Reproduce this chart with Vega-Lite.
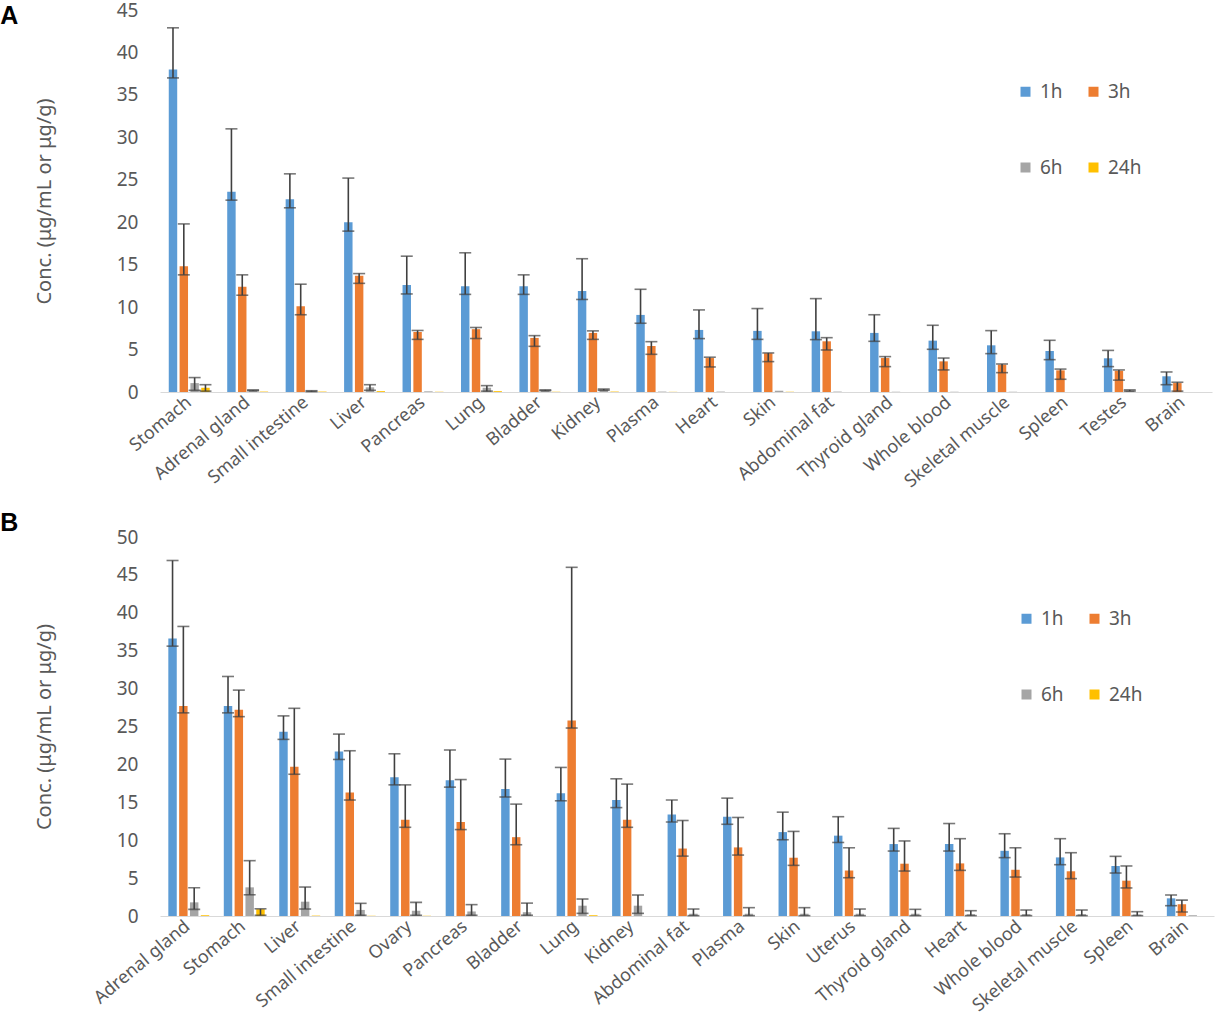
{
  "$schema": "https://vega.github.io/schema/vega-lite/v6.json",
  "background": "white",
  "padding": {"left": 0, "top": 1, "right": 2, "bottom": 0},
  "config": {
    "view": {"stroke": null},
    "font": "Noto Sans",
    "axis": {"labelColor": "#595959", "titleColor": "#595959", "labelFont": "Noto Sans", "titleFont": "Noto Sans"},
    "legend": {"labelColor": "#595959", "labelFont": "Noto Sans"}
  },
  "datasets": {
    "a": [
      {"organ": "Stomach", "time": "1h", "value": 38.0, "lo": 37.0, "hi": 42.9},
      {"organ": "Stomach", "time": "3h", "value": 14.8, "lo": 13.8, "hi": 19.8},
      {"organ": "Stomach", "time": "6h", "value": 1.05, "lo": 0.2, "hi": 1.7},
      {"organ": "Stomach", "time": "24h", "value": 0.5, "lo": 0.1, "hi": 0.86},
      {"organ": "Adrenal gland", "time": "1h", "value": 23.6, "lo": 22.6, "hi": 31.0},
      {"organ": "Adrenal gland", "time": "3h", "value": 12.4, "lo": 11.4, "hi": 13.8},
      {"organ": "Adrenal gland", "time": "6h", "value": 0.2, "lo": 0.15, "hi": 0.25},
      {"organ": "Adrenal gland", "time": "24h", "value": 0.05},
      {"organ": "Small intestine", "time": "1h", "value": 22.7, "lo": 21.7, "hi": 25.7},
      {"organ": "Small intestine", "time": "3h", "value": 10.1, "lo": 9.1, "hi": 12.7},
      {"organ": "Small intestine", "time": "6h", "value": 0.1, "lo": 0.05, "hi": 0.15},
      {"organ": "Small intestine", "time": "24h", "value": 0.05},
      {"organ": "Liver", "time": "1h", "value": 20.0, "lo": 18.95, "hi": 25.2},
      {"organ": "Liver", "time": "3h", "value": 13.7, "lo": 12.8, "hi": 13.95},
      {"organ": "Liver", "time": "6h", "value": 0.55, "lo": 0.2, "hi": 0.86},
      {"organ": "Liver", "time": "24h", "value": 0.1},
      {"organ": "Pancreas", "time": "1h", "value": 12.6, "lo": 11.55, "hi": 16.0},
      {"organ": "Pancreas", "time": "3h", "value": 7.07, "lo": 6.2, "hi": 7.25},
      {"organ": "Pancreas", "time": "6h", "value": 0.08},
      {"organ": "Pancreas", "time": "24h", "value": 0.03},
      {"organ": "Lung", "time": "1h", "value": 12.46, "lo": 11.5, "hi": 16.4},
      {"organ": "Lung", "time": "3h", "value": 7.4, "lo": 6.3, "hi": 7.6},
      {"organ": "Lung", "time": "6h", "value": 0.5, "lo": 0.1, "hi": 0.75},
      {"organ": "Lung", "time": "24h", "value": 0.1},
      {"organ": "Bladder", "time": "1h", "value": 12.46, "lo": 11.5, "hi": 13.8},
      {"organ": "Bladder", "time": "3h", "value": 6.37, "lo": 5.38, "hi": 6.64},
      {"organ": "Bladder", "time": "6h", "value": 0.2, "lo": 0.15, "hi": 0.25},
      {"organ": "Bladder", "time": "24h", "value": 0.03},
      {"organ": "Kidney", "time": "1h", "value": 11.9, "lo": 10.9, "hi": 15.7},
      {"organ": "Kidney", "time": "3h", "value": 6.96, "lo": 6.2, "hi": 7.2},
      {"organ": "Kidney", "time": "6h", "value": 0.3, "lo": 0.2, "hi": 0.35},
      {"organ": "Kidney", "time": "24h", "value": 0.05},
      {"organ": "Plasma", "time": "1h", "value": 9.08, "lo": 8.1, "hi": 12.1},
      {"organ": "Plasma", "time": "3h", "value": 5.42, "lo": 4.44, "hi": 5.93},
      {"organ": "Plasma", "time": "6h", "value": 0.05},
      {"organ": "Plasma", "time": "24h", "value": 0.02},
      {"organ": "Heart", "time": "1h", "value": 7.31, "lo": 6.29, "hi": 9.67},
      {"organ": "Heart", "time": "3h", "value": 4.0, "lo": 2.95, "hi": 4.1},
      {"organ": "Heart", "time": "6h", "value": 0.05},
      {"organ": "Skin", "time": "1h", "value": 7.2, "lo": 6.2, "hi": 9.83},
      {"organ": "Skin", "time": "3h", "value": 4.56, "lo": 3.58, "hi": 4.6},
      {"organ": "Skin", "time": "6h", "value": 0.15},
      {"organ": "Skin", "time": "24h", "value": 0.03},
      {"organ": "Abdominal fat", "time": "1h", "value": 7.15, "lo": 6.17, "hi": 11.0},
      {"organ": "Abdominal fat", "time": "3h", "value": 5.97, "lo": 4.95, "hi": 6.4},
      {"organ": "Abdominal fat", "time": "6h", "value": 0.05},
      {"organ": "Thyroid gland", "time": "1h", "value": 6.96, "lo": 5.97, "hi": 9.1},
      {"organ": "Thyroid gland", "time": "3h", "value": 4.0, "lo": 2.99, "hi": 4.17},
      {"organ": "Thyroid gland", "time": "6h", "value": 0.03},
      {"organ": "Whole blood", "time": "1h", "value": 6.05, "lo": 5.03, "hi": 7.86},
      {"organ": "Whole blood", "time": "3h", "value": 3.61, "lo": 2.6, "hi": 4.0},
      {"organ": "Whole blood", "time": "6h", "value": 0.03},
      {"organ": "Skeletal muscle", "time": "1h", "value": 5.5, "lo": 4.52, "hi": 7.23},
      {"organ": "Skeletal muscle", "time": "3h", "value": 3.22, "lo": 2.28, "hi": 3.3},
      {"organ": "Skeletal muscle", "time": "6h", "value": 0.03},
      {"organ": "Spleen", "time": "1h", "value": 4.83, "lo": 3.81, "hi": 6.09},
      {"organ": "Spleen", "time": "3h", "value": 2.55, "lo": 1.5, "hi": 2.7},
      {"organ": "Testes", "time": "1h", "value": 3.97, "lo": 2.99, "hi": 4.9},
      {"organ": "Testes", "time": "3h", "value": 2.5, "lo": 1.4, "hi": 2.6},
      {"organ": "Testes", "time": "6h", "value": 0.15, "lo": 0.1, "hi": 0.25},
      {"organ": "Brain", "time": "1h", "value": 1.85, "lo": 0.86, "hi": 2.36},
      {"organ": "Brain", "time": "3h", "value": 1.05, "lo": 0.1, "hi": 1.15}
    ],
    "b": [
      {"organ": "Adrenal gland", "time": "1h", "value": 36.6, "lo": 35.6, "hi": 46.9},
      {"organ": "Adrenal gland", "time": "3h", "value": 27.7, "lo": 26.8, "hi": 38.2},
      {"organ": "Adrenal gland", "time": "6h", "value": 1.8, "lo": 0.88, "hi": 3.73},
      {"organ": "Adrenal gland", "time": "24h", "value": 0.1},
      {"organ": "Stomach", "time": "1h", "value": 27.7, "lo": 26.8, "hi": 31.6},
      {"organ": "Stomach", "time": "3h", "value": 27.2, "lo": 26.3, "hi": 29.8},
      {"organ": "Stomach", "time": "6h", "value": 3.78, "lo": 2.8, "hi": 7.3},
      {"organ": "Stomach", "time": "24h", "value": 0.9, "lo": 0.1, "hi": 0.95},
      {"organ": "Liver", "time": "1h", "value": 24.3, "lo": 23.3, "hi": 26.4},
      {"organ": "Liver", "time": "3h", "value": 19.7, "lo": 18.7, "hi": 27.4},
      {"organ": "Liver", "time": "6h", "value": 1.89, "lo": 0.92, "hi": 3.82},
      {"organ": "Liver", "time": "24h", "value": 0.05},
      {"organ": "Small intestine", "time": "1h", "value": 21.7, "lo": 20.65, "hi": 24.0},
      {"organ": "Small intestine", "time": "3h", "value": 16.3, "lo": 15.3, "hi": 21.8},
      {"organ": "Small intestine", "time": "6h", "value": 0.8, "lo": 0.1, "hi": 1.67},
      {"organ": "Small intestine", "time": "24h", "value": 0.03},
      {"organ": "Ovary", "time": "1h", "value": 18.3, "lo": 17.3, "hi": 21.4},
      {"organ": "Ovary", "time": "3h", "value": 12.7, "lo": 11.7, "hi": 17.3},
      {"organ": "Ovary", "time": "6h", "value": 0.7, "lo": 0.1, "hi": 1.8},
      {"organ": "Ovary", "time": "24h", "value": 0.03},
      {"organ": "Pancreas", "time": "1h", "value": 17.9, "lo": 17.0, "hi": 21.9},
      {"organ": "Pancreas", "time": "3h", "value": 12.4, "lo": 11.4, "hi": 18.0},
      {"organ": "Pancreas", "time": "6h", "value": 0.6, "lo": 0.1, "hi": 1.5},
      {"organ": "Bladder", "time": "1h", "value": 16.74, "lo": 15.7, "hi": 20.7},
      {"organ": "Bladder", "time": "3h", "value": 10.4, "lo": 9.4, "hi": 14.76},
      {"organ": "Bladder", "time": "6h", "value": 0.5, "lo": 0.1, "hi": 1.7},
      {"organ": "Lung", "time": "1h", "value": 16.2, "lo": 15.2, "hi": 19.6},
      {"organ": "Lung", "time": "3h", "value": 25.8, "lo": 24.8, "hi": 46.0},
      {"organ": "Lung", "time": "6h", "value": 1.36, "lo": 0.35, "hi": 2.24},
      {"organ": "Lung", "time": "24h", "value": 0.1},
      {"organ": "Kidney", "time": "1h", "value": 15.3, "lo": 14.3, "hi": 18.1},
      {"organ": "Kidney", "time": "3h", "value": 12.7, "lo": 11.7, "hi": 17.4},
      {"organ": "Kidney", "time": "6h", "value": 1.36, "lo": 0.35, "hi": 2.77},
      {"organ": "Abdominal fat", "time": "1h", "value": 13.4, "lo": 12.4, "hi": 15.3},
      {"organ": "Abdominal fat", "time": "3h", "value": 8.9, "lo": 7.9, "hi": 12.6},
      {"organ": "Abdominal fat", "time": "6h", "value": 0.3, "lo": 0.05, "hi": 0.92},
      {"organ": "Plasma", "time": "1h", "value": 13.1, "lo": 12.1, "hi": 15.55},
      {"organ": "Plasma", "time": "3h", "value": 9.05, "lo": 8.04, "hi": 13.0},
      {"organ": "Plasma", "time": "6h", "value": 0.3, "lo": 0.05, "hi": 1.1},
      {"organ": "Skin", "time": "1h", "value": 11.07, "lo": 10.06, "hi": 13.7},
      {"organ": "Skin", "time": "3h", "value": 7.69, "lo": 6.68, "hi": 11.16},
      {"organ": "Skin", "time": "6h", "value": 0.3, "lo": 0.05, "hi": 1.1},
      {"organ": "Uterus", "time": "1h", "value": 10.6, "lo": 9.7, "hi": 13.1},
      {"organ": "Uterus", "time": "3h", "value": 6.0, "lo": 5.05, "hi": 9.0},
      {"organ": "Uterus", "time": "6h", "value": 0.3, "lo": 0.05, "hi": 0.92},
      {"organ": "Thyroid gland", "time": "1h", "value": 9.49, "lo": 8.57, "hi": 11.56},
      {"organ": "Thyroid gland", "time": "3h", "value": 6.9, "lo": 5.93, "hi": 9.9},
      {"organ": "Thyroid gland", "time": "6h", "value": 0.3, "lo": 0.05, "hi": 0.88},
      {"organ": "Heart", "time": "1h", "value": 9.5, "lo": 8.57, "hi": 12.2},
      {"organ": "Heart", "time": "3h", "value": 6.94, "lo": 6.02, "hi": 10.2},
      {"organ": "Heart", "time": "6h", "value": 0.25, "lo": 0.05, "hi": 0.7},
      {"organ": "Whole blood", "time": "1h", "value": 8.6, "lo": 7.7, "hi": 10.85},
      {"organ": "Whole blood", "time": "3h", "value": 6.1, "lo": 5.14, "hi": 9.0},
      {"organ": "Whole blood", "time": "6h", "value": 0.25, "lo": 0.05, "hi": 0.79},
      {"organ": "Skeletal muscle", "time": "1h", "value": 7.73, "lo": 6.77, "hi": 10.2},
      {"organ": "Skeletal muscle", "time": "3h", "value": 5.9, "lo": 4.93, "hi": 8.35},
      {"organ": "Skeletal muscle", "time": "6h", "value": 0.25, "lo": 0.05, "hi": 0.79},
      {"organ": "Spleen", "time": "1h", "value": 6.6, "lo": 5.67, "hi": 7.87},
      {"organ": "Spleen", "time": "3h", "value": 4.66, "lo": 3.7, "hi": 6.6},
      {"organ": "Spleen", "time": "6h", "value": 0.2, "lo": 0.05, "hi": 0.57},
      {"organ": "Brain", "time": "1h", "value": 2.33, "lo": 1.36, "hi": 2.77},
      {"organ": "Brain", "time": "3h", "value": 1.54, "lo": 0.53, "hi": 2.1},
      {"organ": "Brain", "time": "6h", "value": 0.1}
    ]
  },
  "resolve": {"scale": {"color": "independent"}, "legend": {"color": "independent"}},
  "spacing": 20,
  "vconcat": [
    {
      "width": 1052,
      "height": 382,
      "title": {"text": "A", "orient": "left", "anchor": "end", "angle": 0, "align": "left", "baseline": "top", "font": "Liberation Sans", "fontSize": 25, "fontWeight": "bold", "color": "black", "offset": 16, "dy": 3},
      "data": {"name": "a"},
      "encoding": {
        "x": {
          "field": "organ", "type": "nominal", "sort": null, "title": null,
          "scale": {"paddingInner": 0.3, "paddingOuter": 0.15},
          "axis": {"labelAngle": -40, "labelAlign": "right", "labelBaseline": "middle", "labelFontSize": 18, "labelPadding": 8, "ticks": false, "domainColor": "#d9d9d9", "domainWidth": 1.2}
        },
        "xOffset": {"field": "time", "type": "nominal", "scale": {"domain": ["1h", "3h", "6h", "24h"], "paddingInner": 0.22}}
      },
      "layer": [
        {
          "mark": {"type": "bar"},
          "encoding": {
            "y": {
              "field": "value", "type": "quantitative", "title": "Conc. (μg/mL or μg/g)",
              "scale": {"domain": [0, 45], "nice": false},
              "axis": {"values": [0, 5, 10, 15, 20, 25, 30, 35, 40, 45], "labelOverlap": false, "grid": false, "domain": false, "ticks": false, "labelFontSize": 19, "labelPadding": 22, "titleFontSize": 20, "titleFontWeight": "normal", "titlePadding": 62}
            },
            "color": {
              "field": "time", "type": "nominal",
              "scale": {"domain": ["1h", "3h", "6h", "24h"], "range": ["#5B9BD5", "#ED7D31", "#A5A5A5", "#FFC000"]},
              "legend": {"title": null, "orient": "none", "legendX": 856, "legendY": 72, "direction": "horizontal", "columns": 2, "columnPadding": 21, "rowPadding": 56, "symbolType": "square", "symbolSize": 100, "symbolStrokeWidth": 0, "labelFontSize": 19, "labelOffset": 5}
            }
          }
        },
        {
          "transform": [{"filter": "isValid(datum.hi)"}],
          "mark": {"type": "rule", "color": "#404040", "strokeWidth": 1.6},
          "encoding": {"y": {"field": "lo", "type": "quantitative", "title": "Conc. (μg/mL or μg/g)"}, "y2": {"field": "hi"}}
        },
        {
          "transform": [{"filter": "isValid(datum.hi)"}],
          "mark": {"type": "tick", "color": "#404040", "size": 12, "thickness": 1.6},
          "encoding": {"y": {"field": "hi", "type": "quantitative", "title": "Conc. (μg/mL or μg/g)"}}
        },
        {
          "transform": [{"filter": "isValid(datum.hi)"}],
          "mark": {"type": "tick", "color": "#404040", "size": 12, "thickness": 1.6},
          "encoding": {"y": {"field": "lo", "type": "quantitative", "title": "Conc. (μg/mL or μg/g)"}}
        }
      ]
    },
    {
      "width": 1054,
      "height": 379,
      "title": {"text": "B", "orient": "left", "anchor": "end", "angle": 0, "align": "left", "baseline": "top", "font": "Liberation Sans", "fontSize": 25, "fontWeight": "bold", "color": "black", "offset": 16, "dy": -17},
      "data": {"name": "b"},
      "encoding": {
        "x": {
          "field": "organ", "type": "nominal", "sort": null, "title": null,
          "scale": {"paddingInner": 0.3, "paddingOuter": 0.15},
          "axis": {"labelAngle": -40, "labelAlign": "right", "labelBaseline": "middle", "labelFontSize": 18, "labelPadding": 8, "ticks": false, "domainColor": "#d9d9d9", "domainWidth": 1.2}
        },
        "xOffset": {"field": "time", "type": "nominal", "scale": {"domain": ["1h", "3h", "6h", "24h"], "paddingInner": 0.22}}
      },
      "layer": [
        {
          "mark": {"type": "bar"},
          "encoding": {
            "y": {
              "field": "value", "type": "quantitative", "title": "Conc. (μg/mL or μg/g)",
              "scale": {"domain": [0, 50], "nice": false},
              "axis": {"values": [0, 5, 10, 15, 20, 25, 30, 35, 40, 45, 50], "labelOverlap": false, "grid": false, "domain": false, "ticks": false, "labelFontSize": 19, "labelPadding": 22, "titleFontSize": 20, "titleFontWeight": "normal", "titlePadding": 62}
            },
            "color": {
              "field": "time", "type": "nominal",
              "scale": {"domain": ["1h", "3h", "6h", "24h"], "range": ["#5B9BD5", "#ED7D31", "#A5A5A5", "#FFC000"]},
              "legend": {"title": null, "orient": "none", "legendX": 857, "legendY": 72, "direction": "horizontal", "columns": 2, "columnPadding": 21, "rowPadding": 56, "symbolType": "square", "symbolSize": 100, "symbolStrokeWidth": 0, "labelFontSize": 19, "labelOffset": 5}
            }
          }
        },
        {
          "transform": [{"filter": "isValid(datum.hi)"}],
          "mark": {"type": "rule", "color": "#404040", "strokeWidth": 1.6},
          "encoding": {
            "y": {"field": "lo", "type": "quantitative", "title": "Conc. (μg/mL or μg/g)", "axis": {"values": [0, 5, 10, 15, 20, 25, 30, 35, 40, 45, 50], "labelOverlap": false}},
            "y2": {"field": "hi"}
          }
        },
        {
          "transform": [{"filter": "isValid(datum.hi)"}],
          "mark": {"type": "tick", "color": "#404040", "size": 12, "thickness": 1.6},
          "encoding": {"y": {"field": "hi", "type": "quantitative", "title": "Conc. (μg/mL or μg/g)", "axis": {"values": [0, 5, 10, 15, 20, 25, 30, 35, 40, 45, 50], "labelOverlap": false}}}
        },
        {
          "transform": [{"filter": "isValid(datum.hi)"}],
          "mark": {"type": "tick", "color": "#404040", "size": 12, "thickness": 1.6},
          "encoding": {"y": {"field": "lo", "type": "quantitative", "title": "Conc. (μg/mL or μg/g)", "axis": {"values": [0, 5, 10, 15, 20, 25, 30, 35, 40, 45, 50], "labelOverlap": false}}}
        }
      ]
    }
  ]
}
